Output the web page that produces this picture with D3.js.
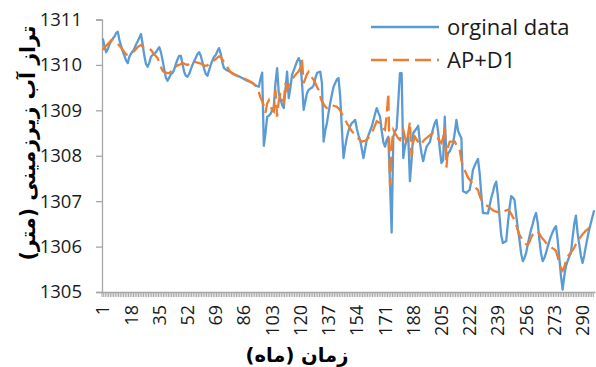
<!DOCTYPE html>
<html>
<head>
<meta charset="utf-8">
<script src="https://cdn.jsdelivr.net/npm/d3@7/dist/d3.min.js"></script>
<style>
    body { margin: 0; background: #fff; }
</style>
</head>
<body>
<div id="chart"></div>
<script>

// months 1..297 on the category axis
const months = d3.range(1, 298)
const monthLabels = [1, 18, 35, 52, 69, 86, 103, 120, 137, 154, 171, 188, 205, 222, 239, 256, 273, 290]
const levelTicks = [1305, 1306, 1307, 1308, 1309, 1310, 1311]

const seriesNames = ["orginal data", "AP+D1"]

const original = [
    1310.58, 1310.40, 1310.28, 1310.35, 1310.45, 1310.52, 1310.58, 1310.62, 1310.70, 1310.73,
    1310.55, 1310.42, 1310.30, 1310.20, 1310.10, 1310.04, 1310.18, 1310.25, 1310.30, 1310.36,
    1310.45, 1310.52, 1310.60, 1310.68, 1310.45, 1310.20, 1310.02, 1309.96, 1310.05, 1310.18,
    1310.22, 1310.24, 1310.28, 1310.34, 1310.39, 1310.28, 1310.10, 1309.90, 1309.72, 1309.65,
    1309.72, 1309.80, 1309.82, 1309.90, 1310.02, 1310.12, 1310.20, 1310.20, 1310.02, 1309.85,
    1309.76, 1309.74, 1309.80, 1309.90, 1310.00, 1310.08, 1310.16, 1310.24, 1310.28, 1310.20,
    1310.06, 1309.92, 1309.80, 1309.76, 1309.88, 1310.00, 1310.10, 1310.18, 1310.22, 1310.30,
    1310.37, 1310.25, 1310.05, 1309.93, 1309.90, 1309.88, 1309.86, 1309.84, 1309.82, 1309.80,
    1309.78, 1309.76, 1309.75, 1309.73, 1309.71, 1309.69, 1309.67, 1309.65, 1309.64, 1309.62,
    1309.60, 1309.58, 1309.55, 1309.53, 1309.52, 1309.70, 1309.83, 1308.22, 1308.50, 1308.86,
    1308.88, 1308.92, 1309.00, 1309.08, 1309.60, 1309.93, 1309.38, 1309.25, 1309.12, 1309.05,
    1309.45, 1309.85, 1309.27, 1309.50, 1309.78, 1309.88, 1309.98, 1310.08, 1310.15, 1310.06,
    1309.60, 1309.01, 1309.20, 1309.38, 1309.45, 1309.48, 1309.50, 1309.55, 1309.70, 1309.82,
    1309.84, 1309.85, 1309.60, 1308.31, 1308.55, 1308.72, 1308.95, 1309.16, 1309.35, 1309.52,
    1309.60, 1309.68, 1309.71, 1309.30, 1308.60, 1307.95, 1308.20, 1308.40, 1308.55, 1308.65,
    1308.72, 1308.75, 1308.79, 1308.60, 1308.45, 1308.35, 1308.15, 1307.95, 1308.15, 1308.35,
    1308.45, 1308.55, 1308.64, 1308.78, 1308.92, 1309.05, 1308.95, 1308.86, 1308.55, 1308.30,
    1308.20, 1308.35, 1308.42, 1307.40, 1306.31, 1308.42, 1308.53, 1308.60, 1309.20, 1309.82,
    1309.82, 1307.95, 1308.20, 1308.35, 1308.42, 1307.44, 1307.90, 1308.50, 1308.55, 1308.60,
    1308.66, 1308.30, 1308.05, 1307.88, 1308.05, 1308.20, 1308.25, 1308.30, 1308.45, 1308.60,
    1308.72, 1308.79, 1308.53, 1308.15, 1307.84, 1307.90, 1308.86, 1307.95, 1308.05, 1308.10,
    1308.18, 1308.28, 1308.50, 1308.79, 1308.55, 1308.46, 1308.39, 1307.22, 1307.20, 1307.18,
    1307.22, 1307.25, 1307.45, 1307.69, 1307.78, 1307.86, 1307.93, 1307.62, 1307.15, 1306.74,
    1306.74, 1306.73, 1306.73, 1306.90, 1307.07, 1307.20, 1307.35, 1307.43, 1307.11, 1306.65,
    1306.25, 1306.08, 1306.10, 1306.12, 1306.50, 1306.85, 1307.11, 1307.08, 1307.03, 1306.70,
    1306.40, 1306.15, 1305.85, 1305.68, 1305.75, 1305.86, 1306.05, 1306.22, 1306.37, 1306.50,
    1306.65, 1306.74, 1306.52, 1306.15, 1305.85, 1305.68, 1305.75, 1305.86, 1306.00, 1306.12,
    1306.23, 1306.32, 1306.40, 1306.45, 1306.15, 1305.75, 1305.35, 1305.05, 1305.35, 1305.57,
    1305.68, 1305.78, 1305.86, 1306.20, 1306.50, 1306.68, 1306.30, 1306.05, 1305.80, 1305.64,
    1305.80, 1306.01, 1306.20, 1306.37, 1306.52, 1306.66, 1306.80
]

const apD1 = [
    1310.33, 1310.38, 1310.42, 1310.46, 1310.50, 1310.54, 1310.55, 1310.53, 1310.51, 1310.47,
    1310.42, 1310.38, 1310.33, 1310.28, 1310.23, 1310.22, 1310.24, 1310.26, 1310.28, 1310.31,
    1310.35, 1310.39, 1310.42, 1310.44, 1310.40, 1310.37, 1310.36, 1310.36, 1310.35, 1310.33,
    1310.28, 1310.23, 1310.19, 1310.15, 1310.05, 1309.95, 1309.87, 1309.84, 1309.83, 1309.82,
    1309.82, 1309.85, 1309.89, 1309.93, 1309.96, 1309.99, 1310.00, 1310.02, 1310.04, 1310.03,
    1310.01, 1310.00, 1310.02, 1310.04, 1310.06, 1310.07, 1310.06, 1310.05, 1310.04, 1310.03,
    1310.01, 1309.99, 1309.98, 1309.99, 1310.02, 1310.05, 1310.08, 1310.10, 1310.13, 1310.16,
    1310.19, 1310.17, 1310.12, 1310.06, 1310.01, 1309.95, 1309.89, 1309.84, 1309.81, 1309.79,
    1309.78, 1309.76, 1309.75, 1309.73, 1309.72, 1309.70, 1309.69, 1309.67, 1309.65, 1309.63,
    1309.61, 1309.58, 1309.54, 1309.50, 1309.40, 1309.28, 1309.20, 1309.10, 1308.95, 1309.15,
    1309.22, 1309.10, 1309.00, 1308.97, 1309.45, 1308.86, 1309.20, 1309.38, 1309.25, 1309.19,
    1309.60, 1309.45, 1309.55, 1309.63, 1309.68, 1309.73, 1309.78, 1309.82, 1309.86, 1309.93,
    1310.11, 1309.60, 1309.70, 1309.80, 1309.85, 1309.78, 1309.72, 1309.67, 1309.60, 1309.52,
    1309.45, 1309.30, 1309.19, 1309.14, 1309.08, 1309.05, 1309.08, 1309.10, 1309.12, 1309.10,
    1309.09, 1309.08, 1309.04, 1309.00, 1308.92, 1308.85, 1308.79, 1308.72, 1308.66, 1308.60,
    1308.54, 1308.50, 1308.46, 1308.42, 1308.38, 1308.34, 1308.31, 1308.32, 1308.33, 1308.35,
    1308.40, 1308.45, 1308.50, 1308.58, 1308.67, 1308.76, 1308.74, 1308.72, 1308.66, 1308.60,
    1308.57, 1308.90, 1309.38, 1307.33, 1308.20, 1308.57, 1308.50, 1308.44, 1308.38, 1308.35,
    1308.50, 1308.57, 1308.40, 1308.28, 1308.50, 1308.75, 1307.98, 1308.30, 1308.42, 1308.36,
    1308.30, 1308.24, 1308.28, 1308.32, 1308.36, 1308.39, 1308.42, 1308.45, 1308.48, 1308.50,
    1308.46, 1308.42, 1308.37, 1308.32, 1308.28, 1308.40, 1308.64, 1307.74, 1308.20, 1308.31,
    1308.31, 1308.31, 1308.31, 1308.24, 1308.18, 1308.13, 1307.90, 1307.76, 1307.68, 1307.60,
    1307.52, 1307.47, 1307.42, 1307.38, 1307.33, 1307.28, 1307.25, 1307.12, 1307.03, 1306.98,
    1306.94, 1306.91, 1306.89, 1306.86, 1306.83, 1306.80, 1306.78, 1306.77, 1306.76, 1306.75,
    1306.74, 1306.76, 1306.78, 1306.80, 1306.81, 1306.78, 1306.72, 1306.65, 1306.59, 1306.48,
    1306.36, 1306.26, 1306.20, 1306.14, 1306.08, 1306.05, 1306.04, 1306.10, 1306.20, 1306.26,
    1306.30, 1306.33, 1306.34, 1306.28, 1306.22, 1306.17, 1306.13, 1306.08, 1306.05, 1306.02,
    1305.99, 1305.96, 1305.94, 1305.90, 1305.78, 1305.62, 1305.52, 1305.47, 1305.55, 1305.68,
    1305.78, 1305.83, 1305.88, 1305.92, 1305.98, 1306.05, 1306.12, 1306.17, 1306.22, 1306.27,
    1306.31, 1306.35, 1306.38, 1306.41, 1306.44, 1306.47, 1306.49
]


class LevelChart {

    constructor(parent, width, height) {
        this.parent = parent
        this.width = width
        this.height = height

        this.blue = "#5B9BD5"
        this.orange = "#ED7D31"
        this.axisColor = "#A6A6A6"
        this.font = "'Open Sans', 'Noto Sans', sans-serif"
        this.faFont = "'DejaVu Sans', sans-serif"

        this.left = 102
        this.right = 595
        this.top = 19.5
        this.bottom = 292
    }

    init() {
        this.svg = d3.select(this.parent).append("svg")
            .attr("width", this.width)
            .attr("height", this.height)

        this.x = d3.scaleBand().domain(months).range([this.left, this.right])
        this.y = d3.scaleLinear().domain([1305, 1311]).range([this.bottom, this.top])

        this.drawAxes()
        this.drawLines()
        this.drawLegend()
        this.drawTitles()
    }

    drawAxes() {
        const bw = this.x.bandwidth()

        const yAxis = this.svg.append("g")
            .attr("transform", `translate(${this.left},0)`)
            .call(d3.axisLeft(this.y).tickValues(levelTicks).tickSize(6).tickPadding(14).tickFormat(d3.format("d")))
        yAxis.select(".domain").attr("stroke", this.axisColor).attr("stroke-width", 1.3)
        yAxis.selectAll(".tick line").attr("stroke", this.axisColor).attr("stroke-width", 1.3)
        yAxis.selectAll(".tick text")
            .attr("font-family", this.font)
            .attr("font-size", 18.5)
            .attr("fill", "#1a1a1a")

        const xAxis = this.svg.append("g")
            .attr("transform", `translate(0,${this.bottom})`)
            .call(d3.axisBottom(this.x).tickValues(months).tickSize(5).tickSizeOuter(0)
                .tickFormat(d => monthLabels.includes(d) ? d : ""))
        xAxis.select(".domain").attr("stroke", this.axisColor).attr("stroke-width", 1.3)
        // excel puts the ticks between categories
        xAxis.selectAll(".tick line")
            .attr("x1", -bw / 2).attr("x2", -bw / 2)
            .attr("stroke", this.axisColor)
        xAxis.selectAll(".tick text")
            .attr("transform", "rotate(-90)")
            .attr("text-anchor", "end")
            .attr("x", -13)
            .attr("y", 0)
            .attr("dy", "0.36em")
            .attr("font-family", this.font)
            .attr("font-size", 18)
            .attr("fill", "#1a1a1a")
    }

    drawLines() {
        const bw = this.x.bandwidth()
        const line = d3.line()
            .x((d, i) => this.x(months[i]) + bw / 2)
            .y(d => this.y(d))

        this.svg.append("path")
            .datum(original)
            .attr("fill", "none")
            .attr("stroke", this.blue)
            .attr("stroke-width", 2.3)
            .attr("stroke-linejoin", "round")
            .attr("d", line)

        this.svg.append("path")
            .datum(apD1)
            .attr("fill", "none")
            .attr("stroke", this.orange)
            .attr("stroke-width", 2.3)
            .attr("stroke-dasharray", "15,6")
            .attr("d", line)
    }

    drawLegend() {
        const rows = [
            {name: seriesNames[0], color: this.blue, dash: null, y: 27},
            {name: seriesNames[1], color: this.orange, dash: "16,6", y: 60}
        ]
        const g = this.svg.append("g").attr("class", "legend")
        const items = g.selectAll("g").data(rows).join("g")
            .attr("transform", d => `translate(0,${d.y})`)

        items.append("line")
            .attr("x1", 371).attr("x2", 439)
            .attr("stroke", d => d.color)
            .attr("stroke-width", 2.3)
            .attr("stroke-dasharray", d => d.dash)

        items.append("text")
            .attr("x", 447)
            .attr("y", 7.5)
            .attr("font-family", this.font)
            .attr("font-size", 22)
            .attr("fill", "#1a1a1a")
            .text(d => d.name)
    }

    drawTitles() {
        this.svg.append("text")
            .attr("transform", "translate(28,143) rotate(-90)")
            .attr("text-anchor", "middle")
            .attr("dy", "0.35em")
            .attr("font-family", this.faFont)
            .attr("font-weight", "bold")
            .attr("font-size", 20.5)
            .attr("direction", "rtl")
            .text("تراز آب زیرزمینی (متر)")

        this.svg.append("text")
            .attr("x", 297)
            .attr("y", 362)
            .attr("text-anchor", "middle")
            .attr("font-family", this.faFont)
            .attr("font-weight", "bold")
            .attr("font-size", 19.5)
            .attr("direction", "rtl")
            .text("زمان (ماه)")
    }
}

const chart = new LevelChart("#chart", 596, 367)
chart.init()

</script>
</body>
</html>
